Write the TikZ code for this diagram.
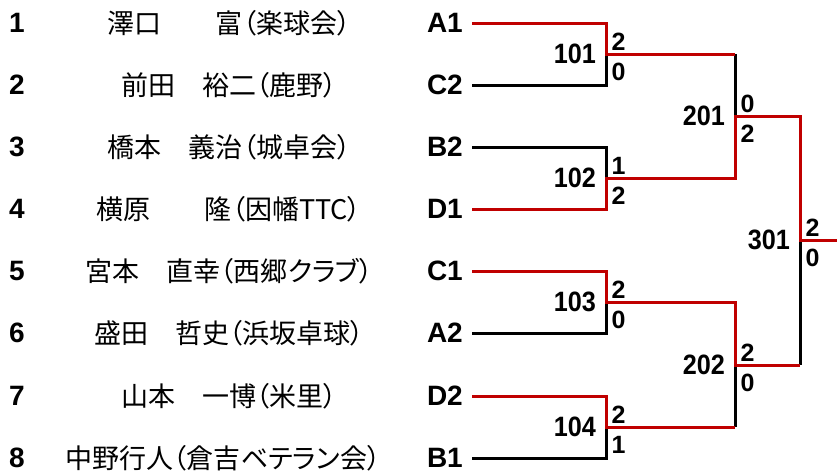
\documentclass[tikz,border=0pt]{standalone}
\usepackage{fontspec}
\setmainfont{Liberation Sans}
\newfontfamily\jpfont{Noto Sans CJK JP}[RawFeature=+palt]
\newfontfamily\narrowfont{Liberation Sans}[FakeStretch=0.9]
\definecolor{winred}{RGB}{192,0,0}
\tikzset{
  seed/.style={anchor=west, inner sep=0pt, font=\bfseries\fontsize{28}{28}\selectfont},
  player/.style={inner sep=0pt, font=\jpfont\fontsize{27}{27}\selectfont},
  entry/.style={anchor=east, inner xsep=9pt, inner ysep=0pt, font=\bfseries\fontsize{28}{28}\selectfont},
  match/.style={anchor=east, inner sep=0pt, font=\narrowfont\bfseries\fontsize{28}{28}\selectfont},
  score/.style={inner sep=0pt, font=\bfseries\fontsize{25}{25}\selectfont},
  lose/.style={draw=black, line width=3pt},
  win/.style={draw=winred, line width=3pt},
}
\begin{document}
\begin{tikzpicture}[x=1pt,y=1pt]
\useasboundingbox (0,0) rectangle (837,-474);

\node[seed] (s1) at (9,-23) {1};
\node[seed] (s2) at (9,-85) {2};
\node[seed] (s3) at (9,-147) {3};
\node[seed] (s4) at (9,-209) {4};
\node[seed] (s5) at (9,-271) {5};
\node[seed] (s6) at (9,-333) {6};
\node[seed] (s7) at (9,-396) {7};
\node[seed] (s8) at (9,-458) {8};

\node[player] (p1) at (229,-23) {澤口　　富（楽球会）};
\node[player] (p2) at (229,-85) {前田　裕二（鹿野）};
\node[player] (p3) at (229,-147) {橋本　義治（城卓会）};
\node[player] (p4) at (229,-209) {横原　　隆（因幡TTC）};
\node[player] (p5) at (229,-271) {宮本　直幸（西郷クラブ）};
\node[player] (p6) at (229,-333) {盛田　哲史（浜坂卓球）};
\node[player] (p7) at (229,-396) {山本　一博（米里）};
\node[player] (p8) at (223,-458) {中野行人（倉吉ベテラン会）};

\node[entry] (A1) at (472,-23) {A1};
\node[entry] (C2) at (472,-85) {C2};
\node[entry] (B2) at (472,-147) {B2};
\node[entry] (D1) at (472,-209) {D1};
\node[entry] (C1) at (472,-271) {C1};
\node[entry] (A2) at (472,-333) {A2};
\node[entry] (D2) at (472,-396) {D2};
\node[entry] (B1) at (472,-458) {B1};

\coordinate (m101) at (606,-54);
\coordinate (m102) at (606,-178);
\coordinate (m103) at (606,-302);
\coordinate (m104) at (606,-427);
\coordinate (m201) at (735,-116);
\coordinate (m202) at (735,-365);
\coordinate (m301) at (800,-240);
\coordinate (champ) at (837,-240);

% losing branches
\path[lose] (C2.east) -| (m101);
\path[lose] (B2.east) -| (m102);
\path[lose] (A2.east) -| (m103);
\path[lose] (B1.east) -| (m104);
\path[lose] (m101 -| m201) -- (m201);
\path[lose] (m104 -| m202) -- (m202);
\path[lose] (m202 -| m301) -- (m301);

% winning branches
\path[win] (A1.east) -| (m101) -- (m101 -| m201);
\path[win] (D1.east) -| (m102) -| (m201) -| (m301) -- (champ);
\path[win] (C1.east) -| (m103) -| (m202) -- (m202 -| m301);
\path[win] (D2.east) -| (m104) -- (m104 -| m202);

\node[match] (t101) at (596,-54) {101};
\node[match] (t102) at (596,-178) {102};
\node[match] (t103) at (596,-302) {103};
\node[match] (t104) at (596,-427) {104};
\node[match] (t201) at (725,-116) {201};
\node[match] (t202) at (725,-365) {202};
\node[match] (t301) at (790,-240) {301};

\node[score] (a101) at (618.5,-42) {2};
\node[score] (b101) at (618.5,-72) {0};
\node[score] (a102) at (618.5,-166) {1};
\node[score] (b102) at (618.5,-196) {2};
\node[score] (a103) at (618.5,-290) {2};
\node[score] (b103) at (618.5,-320) {0};
\node[score] (a104) at (618.5,-415) {2};
\node[score] (b104) at (618.5,-445) {1};
\node[score] (a201) at (747.5,-104) {0};
\node[score] (b201) at (747.5,-134) {2};
\node[score] (a202) at (747.5,-353) {2};
\node[score] (b202) at (747.5,-383) {0};
\node[score] (a301) at (812.5,-228) {2};
\node[score] (b301) at (812.5,-258) {0};
\end{tikzpicture}
\end{document}
